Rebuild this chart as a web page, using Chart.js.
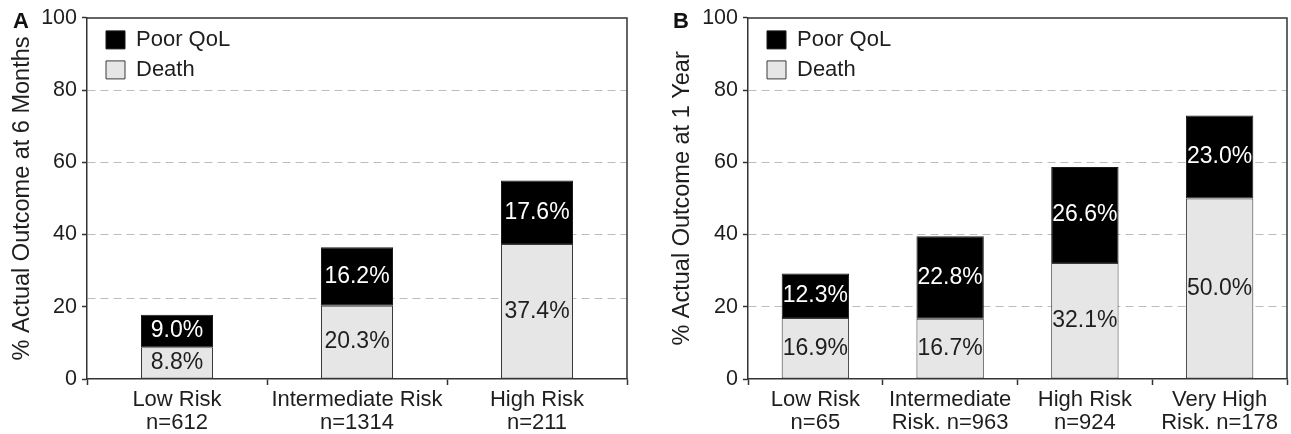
<!DOCTYPE html>
<html>
<head>
<meta charset="utf-8">
<script src="https://cdn.jsdelivr.net/npm/chart.js@4/dist/chart.umd.min.js"></script>
<style>
  html, body { margin: 0; padding: 0; background: #fff; }
  body { width: 1291px; height: 434px; position: relative; overflow: hidden; }
  .panel { position: absolute; top: 0; }
  .panel canvas { display: block; }
  .letter {
    position: absolute; top: 10px;
    font: bold 22px "Liberation Sans", Arial, sans-serif; line-height: 22px;
    color: #111;
  }
</style>
</head>
<body>
<div class="panel" style="left:0;width:640px;height:434px"><canvas id="chartA" width="640" height="434"></canvas></div>
<div class="panel" style="left:650px;width:641px;height:434px"><canvas id="chartB" width="641" height="434"></canvas></div>
<div class="letter" style="left:13px">A</div>
<div class="letter" style="left:673px">B</div>
<script>
// Panel A: outcome at 6 months
const categoriesA = [["Low Risk", "n=612"], ["Intermediate Risk", "n=1314"], ["High Risk", "n=211"]];
const deathA = [8.8, 20.3, 37.4];
const poorQolA = [9.0, 16.2, 17.6];
const gridValuesA = [22.3, 40, 60, 80];

// Panel B: outcome at 1 year
const categoriesB = [["Low Risk", "n=65"], ["Intermediate", "Risk. n=963"], ["High Risk", "n=924"], ["Very High", "Risk. n=178"]];
const deathB = [16.9, 16.7, 32.1, 50.0];
const poorQolB = [12.3, 22.8, 26.6, 23.0];
const gridValuesB = [20, 40, 60, 80];

// Shared y-axis tick labels
const yTicks = [0, 20, 40, 60, 80, 100];

const FONT = '"Liberation Sans", Arial, Helvetica, sans-serif';
const TEXT = '#1e1e1e';
const AXIS = '#333333';
const GRID = '#bdbdbd';
const CLEAR = 'rgba(0,0,0,0)';

// Value labels centred in each stacked segment
const segmentLabels = {
  id: 'segmentLabels',
  afterDatasetsDraw(chart) {
    const ctx = chart.ctx;
    ctx.save();
    ctx.font = '23px ' + FONT;
    ctx.textAlign = 'center';
    ctx.textBaseline = 'middle';
    chart.data.datasets.forEach((ds, di) => {
      const meta = chart.getDatasetMeta(di);
      meta.data.forEach((bar, i) => {
        const v = ds.data[i];
        ctx.fillStyle = ds.labelColor;
        ctx.fillText(v.toFixed(1) + '%', bar.x, (bar.y + bar.base) / 2);
      });
    });
    ctx.restore();
  }
};

// Closes the plot box along its top and right edges
const plotFrame = {
  id: 'plotFrame',
  afterDraw(chart) {
    const a = chart.chartArea;
    const ctx = chart.ctx;
    ctx.save();
    ctx.strokeStyle = AXIS;
    ctx.lineWidth = 1.5;
    ctx.beginPath();
    ctx.moveTo(a.left, a.top);
    ctx.lineTo(a.right, a.top);
    ctx.lineTo(a.right, a.bottom);
    ctx.stroke();
    ctx.restore();
  }
};

// Places the in-plot legend just inside the top-left corner of the plot
const legendInset = {
  id: 'legendInset',
  afterLayout(chart) {
    const lg = chart.legend;
    if (!lg) return;
    const a = chart.chartArea;
    const w = lg.right - lg.left, h = lg.bottom - lg.top;
    lg.left = a.left + 11; lg.right = lg.left + w;
    lg.top = a.top + 3; lg.bottom = lg.top + h;
  }
};

function buildChart(id, labels, death, poorQol, gridValues, yTitle, yWidth, padRight, barPct, titlePad) {
  const tickValues = Array.from(new Set(yTicks.concat(gridValues))).sort((a, b) => a - b);
  return new Chart(document.getElementById(id), {
    type: 'bar',
    data: {
      labels: labels,
      datasets: [
        {
          label: 'Death', data: death,
          backgroundColor: '#e6e6e6', borderColor: '#3a3a3a', borderWidth: 1,
          borderSkipped: false, labelColor: TEXT,
          categoryPercentage: 0.8, barPercentage: barPct
        },
        {
          label: 'Poor QoL', data: poorQol,
          backgroundColor: '#000000', borderColor: '#1a1a1a', borderWidth: 1,
          borderSkipped: false, labelColor: '#ffffff',
          categoryPercentage: 0.8, barPercentage: barPct
        }
      ]
    },
    options: {
      responsive: false,
      animation: false,
      events: [],
      layout: { padding: { top: 17, right: padRight, bottom: 0, left: 0 } },
      plugins: {
        legend: {
          position: 'chartArea',
          align: 'start',
          reverse: true,
          labels: {
            boxWidth: 19, boxHeight: 18, padding: 8,
            color: TEXT, font: { family: FONT, size: 22 }
          }
        },
        tooltip: { enabled: false }
      },
      scales: {
        x: {
          stacked: true,
          offset: true,
          grid: { offset: true, drawOnChartArea: false, tickLength: 6, tickColor: AXIS, tickWidth: 1.5 },
          border: { color: AXIS, width: 1.5 },
          ticks: { color: TEXT, font: { family: FONT, size: 22, lineHeight: 1.065 }, padding: 3, maxRotation: 0, autoSkip: false },
          afterFit(scale) { scale.height = 55; }
        },
        y: {
          stacked: true,
          min: 0, max: 100,
          afterBuildTicks(scale) { scale.ticks = tickValues.map(v => ({ value: v })); },
          grid: {
            color: (c) => (c.tick && gridValues.includes(c.tick.value)) ? GRID : CLEAR,
            tickColor: (c) => (c.tick && yTicks.includes(c.tick.value)) ? AXIS : CLEAR,
            lineWidth: 1, tickWidth: 1.5, tickLength: 5
          },
          border: { color: AXIS, width: 1.5, dash: [8, 5] },
          ticks: {
            color: TEXT, font: { family: FONT, size: 21.5 }, padding: 5, autoSkip: false,
            callback: (v) => yTicks.includes(v) ? String(v) : ''
          },
          title: {
            display: true, text: yTitle, color: TEXT,
            font: { family: FONT, size: 23.5 }, padding: { top: titlePad, bottom: 0 }
          },
          afterFit(scale) { scale.width = yWidth; }
        }
      }
    },
    plugins: [segmentLabels, plotFrame, legendInset]
  });
}

buildChart('chartA', categoriesA, deathA, poorQolA, gridValuesA,
  '% Actual Outcome at 6 Months', 87, 13, 0.5, 8);
buildChart('chartB', categoriesB, deathB, poorQolB, gridValuesB,
  '% Actual Outcome at 1 Year', 98, 4, 0.625, 18);
</script>
</body>
</html>
